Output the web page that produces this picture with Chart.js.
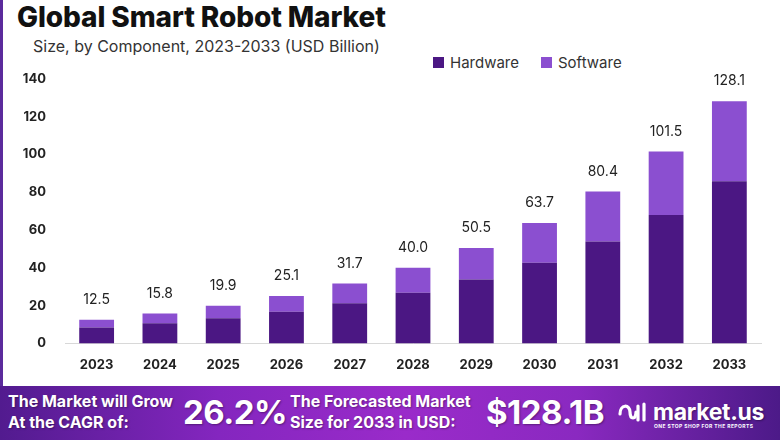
<!DOCTYPE html>
<html>
<head>
<meta charset="utf-8">
<script src="https://cdn.jsdelivr.net/npm/chart.js@4.4.1/dist/chart.umd.min.js"></script>
<style>
  html, body { margin: 0; padding: 0; background: #fff; }
  body { width: 780px; height: 440px; position: relative; overflow: hidden; font-family: Inter, "Open Sans", sans-serif; }
  .edge { position: absolute; left: 0; top: 0; width: 3px; height: 386px; background: #5b2a9c; }
  h1 { position: absolute; left: 17px; top: 0px; margin: 0; font-size: 28px; font-weight: 800; color: #111; letter-spacing: -0.1px; }
  .sub { position: absolute; left: 33px; top: 36px; font-size: 16px; color: #333; }
  .legend { position: absolute; top: 53px; left: 433px; font-size: 15px; color: #333; display: flex; gap: 22px; }
  .legend span { display: flex; align-items: center; }
  .legend i { display: inline-block; width: 11px; height: 11px; margin-right: 6px; }
  #wrap { position: absolute; left: 0; top: 60px; width: 780px; height: 325px; }
  .footer { position: absolute; left: 0; top: 386px; width: 780px; height: 54px;
    background: linear-gradient(90deg, #521b8f 0%, #8426bf 28%, #9a2bca 52%, #8a29c0 74%, #4c1a88 100%);
    color: #fff; font-weight: 700; text-shadow: 1px 1px 2px rgba(0,0,0,0.35); }
  .footer div { position: absolute; }
  .f-small { font-size: 16px; line-height: 21px; top: 5px; }
  .f-big { font-size: 33px; top: 6px; letter-spacing: -0.5px; }
  .logo { left: 653px; top: 12px; font-size: 23px; letter-spacing: -0.3px; }
  .tag { left: 654px; top: 37px; font-size: 5px; letter-spacing: 0.4px; text-shadow: none; }
</style>
</head>
<body>
<div class="edge"></div>
<h1>Global Smart Robot Market</h1>
<div class="sub">Size, by Component, 2023-2033 (USD Billion)</div>
<div class="legend">
  <span><i style="background:#4b1783"></i>Hardware</span>
  <span><i style="background:#8b4fd0"></i>Software</span>
</div>
<div id="wrap"><canvas id="market"></canvas></div>
<div class="footer">
  <div class="f-small" style="left:8px">The Market will Grow<br>At the CAGR of:</div>
  <div class="f-big" style="left:183px">26.2%</div>
  <div class="f-small" style="left:290px">The Forecasted Market<br>Size for 2033 in USD:</div>
  <div class="f-big" style="left:486px">$128.1B</div>
  <svg style="position:absolute;left:617px;top:14px" width="30" height="24" viewBox="0 0 30 24">
    <path d="M3 14 C3 4, 13 4, 13 12 C13 20, 19 20, 19 12" fill="none" stroke="#fff" stroke-width="3.2" stroke-linecap="round"/>
    <line x1="21" y1="6" x2="21" y2="20" stroke="#fff" stroke-width="3.2" stroke-linecap="round"/>
    <line x1="27" y1="4" x2="27" y2="20" stroke="#fff" stroke-width="3.2" stroke-linecap="round"/>
  </svg>
  <div class="logo">market.us</div>
  <div class="tag">ONE STOP SHOP FOR THE REPORTS</div>
</div>
<script>
const years = ['2023', '2024', '2025', '2026', '2027', '2028', '2029', '2030', '2031', '2032', '2033'];
const totals = [12.5, 15.8, 19.9, 25.1, 31.7, 40.0, 50.5, 63.7, 80.4, 101.5, 128.1];
const hardware = [8.4, 10.6, 13.3, 16.8, 21.2, 26.8, 33.8, 42.7, 53.9, 68.0, 85.8];
const software = [4.1, 5.2, 6.6, 8.3, 10.5, 13.2, 16.7, 21.0, 26.5, 33.5, 42.3];
const yTicks = [0, 20, 40, 60, 80, 100, 120, 140];

// totals written above each stacked bar
const totalLabels = {
  id: 'totalLabels',
  afterDatasetsDraw(chart) {
    const ctx = chart.ctx;
    const meta = chart.getDatasetMeta(1);
    ctx.save();
    ctx.font = '14px Inter, sans-serif';
    ctx.fillStyle = '#222';
    ctx.textAlign = 'center';
    ctx.textBaseline = 'middle';
    meta.data.forEach((bar, i) => {
      ctx.fillText(totals[i].toFixed(1), bar.x, bar.y - 20);
    });
    ctx.restore();
  }
};

new Chart(document.getElementById('market'), {
  type: 'bar',
  data: {
    labels: years,
    datasets: [
      { label: 'Hardware', data: hardware, backgroundColor: '#4b1783' },
      { label: 'Software', data: software, backgroundColor: '#8b4fd0' }
    ]
  },
  options: {
    responsive: true,
    maintainAspectRatio: false,
    animation: false,
    layout: { padding: { top: 10, right: 19, left: 5, bottom: 6 } },
    datasets: { bar: { barPercentage: 0.55, categoryPercentage: 1 } },
    plugins: { legend: { display: false }, tooltip: { enabled: false } },
    scales: {
      x: {
        stacked: true,
        grid: { display: false },
        border: { color: '#d8d8d8' },
        ticks: { color: '#222', font: { family: 'Inter', size: 13, weight: 'bold' }, padding: 6 }
      },
      y: {
        stacked: true,
        min: 0,
        max: 140,
        afterBuildTicks: s => { s.ticks = yTicks.map(v => ({ value: v })); },
        afterFit: s => { s.width = 60; },
        grid: { display: false },
        border: { display: false },
        ticks: { color: '#222', font: { family: 'Inter', size: 13, weight: 'bold' }, padding: 11 }
      }
    }
  },
  plugins: [totalLabels]
});
</script>
</body>
</html>
